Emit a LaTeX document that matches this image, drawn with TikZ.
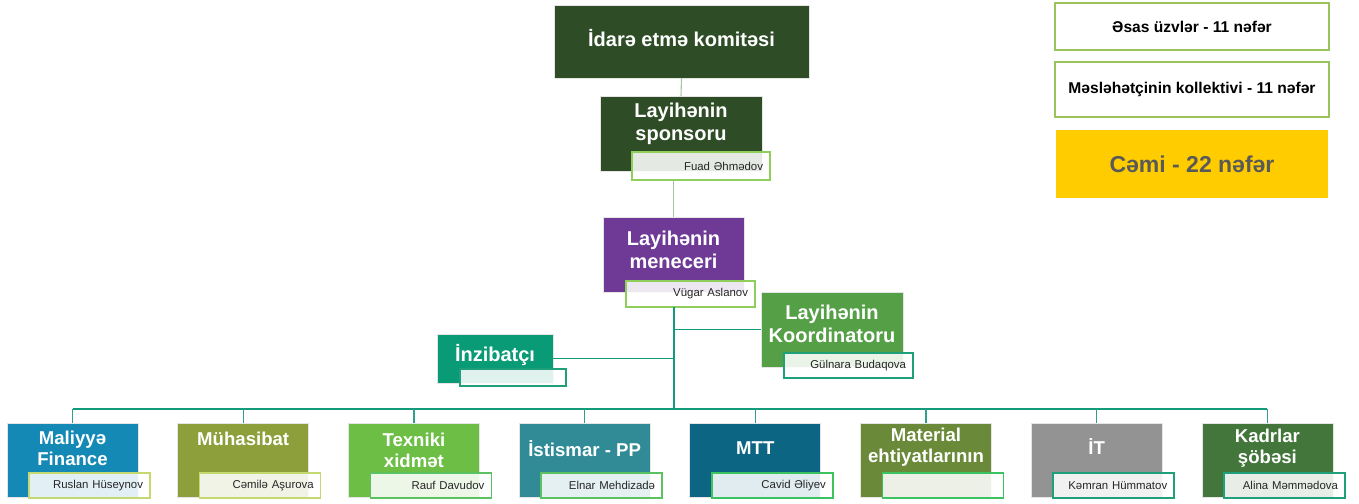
\documentclass[tikz,border=0pt]{standalone}
\usepackage{fontspec}
\setmainfont{Liberation Sans}

% colours of the units
\definecolor{cBoard}{HTML}{2E4D26}
\definecolor{cMgr}{HTML}{6E3A96}
\definecolor{cCoord}{HTML}{55A046}
\definecolor{cAdmin}{HTML}{089B76}
\definecolor{cFin}{HTML}{1489B5}
\definecolor{cAcc}{HTML}{8D9F3A}
\definecolor{cTech}{HTML}{6DBE45}
\definecolor{cOps}{HTML}{318B97}
\definecolor{cMtt}{HTML}{0D6584}
\definecolor{cMat}{HTML}{6A8A3A}
\definecolor{cIt}{HTML}{939393}
\definecolor{cHr}{HTML}{42763A}
\definecolor{cSum}{HTML}{FFCC00}
% borders and lines
\definecolor{bLime}{HTML}{C4D96F}
\definecolor{bLeaf}{HTML}{8FCE5A}
\definecolor{bMid}{HTML}{5CC160}
\definecolor{bBright}{HTML}{3CC35F}
\definecolor{bTeal}{HTML}{1FA07A}
\definecolor{lTop}{HTML}{A3C79A}
\definecolor{lTeal}{HTML}{129A7A}
\definecolor{lDrop}{HTML}{2F9E8A}
\definecolor{bLegend}{HTML}{9BC35B}

\newcommand\bigttl{\fontsize{10}{11.5}\selectfont\bfseries}
\newcommand\botttl{\fontsize{9.3}{10.6}\selectfont\bfseries}
\newcommand\nmfont{\fontsize{5.7}{6.5}\selectfont}
\newcommand\legfont{\fontsize{7.8}{9}\selectfont\bfseries}
\newcommand\sumfont{\fontsize{11.5}{13}\selectfont\bfseries}

\tikzset{
  unitbox/.style={inner sep=0pt, outer sep=0pt, draw=black!10, line width=0.4pt},
  unitttl/.style={inner sep=0pt, text=white, align=center},
  namebox/.style={fill=white, fill opacity=0.88, text opacity=1, line width=0.75pt,
    inner xsep=3.5pt, inner ysep=0pt, outer sep=0pt, align=right, font=\nmfont,
    text=black!85, minimum height=12.5pt},
  legbox/.style={draw=bLegend, line width=0.75pt, fill=white, inner sep=0pt,
    font=\legfont, text=black},
  topline/.style={draw=lTop, line width=0.55pt},
  trunk/.style={draw=lTeal, line width=1pt},
  branch/.style={draw=lTeal, line width=0.7pt},
  drop/.style={draw=lDrop, line width=0.6pt},
}

\begin{document}
\begin{tikzpicture}[x=0.5pt,y=-0.5pt]
  \useasboundingbox (0,0) rectangle (1359,503);

  % board and sponsor
  \node[unitbox, fill=cBoard, minimum width=127.5pt, minimum height=36.5pt] (idare) at (681.5,41.5) {};
  \node[unitttl, font=\bigttl] (tIdare) at ([yshift=1.5pt]idare.center) {İdarə etmə komitəsi};
  \node[unitbox, fill=cBoard, minimum width=81pt, minimum height=37.5pt] (sponsor) at (681,133.5) {};
  \node[unitttl, font=\bigttl] (tSponsor) at ([yshift=4.75pt]sponsor.center) {Layihənin\\sponsoru};
  \node[namebox, draw=bLeaf, text width=62pt, minimum height=14pt] (spname) at (701,166) {Fuad Əhmədov};

  % project manager
  \node[unitbox, fill=cMgr, minimum width=70.5pt, minimum height=37.5pt] (menecer) at (673.5,254.5) {};
  \node[unitttl, font=\bigttl] (tMenecer) at ([yshift=2.5pt]menecer.center) {Layihənin\\meneceri};
  \node[namebox, draw=bLeaf, text width=57.5pt, minimum height=13pt] (mnname) at (690.5,294) {Vügar Aslanov};

  % coordinator and administrator
  \node[unitbox, fill=cCoord, minimum width=71pt, minimum height=37.5pt] (koord) at (832,329.5) {};
  \node[unitttl, font=\bigttl] (tKoord) at ([yshift=3pt]koord.center) {Layihənin\\Koordinatoru};
  \node[namebox, draw=bTeal, text width=57.5pt] (kdname) at (848.5,365.5) {Gülnara Budaqova};

  \node[unitbox, fill=cAdmin, minimum width=58pt, minimum height=24.5pt] (inzib) at (495,358.5) {};
  \node[unitttl, font=\bigttl] (tInzib) at ([yshift=1.75pt]inzib.center) {İnzibatçı};
  \node[namebox, draw=bTeal, text width=46pt, minimum height=8.5pt] (inzname) at (513,377.5) {};

  % legend
  \node[legbox, minimum width=137pt, minimum height=23.5pt] (legA) at (1192,26.5) {Əsas üzvlər - 11 nəfər};
  \node[legbox, minimum width=137pt, minimum height=27.5pt] (legB) at (1192,89.5) {Məsləhətçinin kollektivi - 11 nəfər};
  \node[fill=cSum, inner sep=0pt, minimum width=136pt, minimum height=34pt, font=\sumfont,
    text=black!65] (cemi) at (1192,164) {Cəmi - 22 nəfər};

  % departments
  \foreach \i/\fcol/\ttl/\nm/\ncol/\up in {
      1/cFin/{Maliyyə\\Finance}/{Ruslan Hüseynov}/bLime/6,
      2/cAcc/{Mühasibat}/{Cəmilə Aşurova}/bLime/10.5,
      3/cTech/{Texniki\\xidmət}/{Rauf Davudov}/bMid/5,
      4/cOps/{İstismar - PP}/{Elnar Mehdizadə}/bMid/5.5,
      5/cMtt/{MTT}/{Cavid Əliyev}/bBright/6,
      6/cMat/{Material\\ehtiyatlarının}/{}/bBright/6.5,
      7/cIt/{İT}/{Kəmran Hümmatov}/bTeal/6.5,
      8/cHr/{Kadrlar\\şöbəsi}/{Alina Məmmədova}/bTeal/6}{
    \pgfmathsetmacro\bx{72.5+170.7*(\i-1)}
    \node[unitbox, fill=\fcol, minimum width=65.5pt, minimum height=37pt] (b\i) at (\bx,460) {};
    \node[unitttl, font=\botttl] (t\i) at ([yshift=\up pt]b\i.center) {\ttl};
    \node[namebox, draw=\ncol, text width=53.5pt] (n\i) at (\bx+17,485.5) {\nm};
  }

  % connectors
  \coordinate (bus) at (673.5,409);
  \draw[topline] (idare.south) -- (sponsor.north);
  \draw[topline] (spname.south -| menecer.north) -- (menecer.north);
  \draw[trunk] (mnname.south -| menecer.south) -- (menecer.south |- bus);
  \draw[branch] (menecer.south |- koord.west) -- (koord.west);
  \draw[branch] (inzib.east) -- (inzib.east -| menecer.south);
  \draw[trunk] (b1.north |- bus) -- (b8.north |- bus);
  \foreach \i in {1,...,8}
    \draw[drop] (b\i.north) -- (b\i.north |- bus);
\end{tikzpicture}
\end{document}
